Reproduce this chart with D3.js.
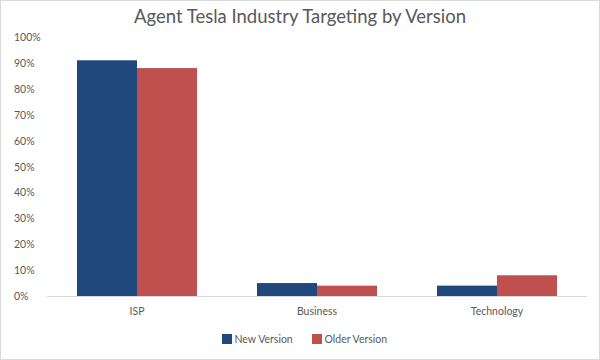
<!DOCTYPE html>
<html><head><meta charset="utf-8">
<script src="https://cdn.jsdelivr.net/npm/d3@7"></script>
<style>body{margin:0;background:#fff}svg{display:block}text{font-family:Lato,"Open Sans",sans-serif;fill:#595959}</style>
</head><body><svg id="c" width="600" height="360"></svg>
<script>
const categories = ["ISP", "Business", "Technology"];
const seriesNames = ["New Version", "Older Version"];
const newVersion = [0.91, 0.05, 0.04];
const olderVersion = [0.88, 0.04, 0.08];
const yTicks = [0,0.1,0.2,0.3,0.4,0.5,0.6,0.7,0.8,0.9,1.0];
const colors = ["#1F497D", "#C0504D"];

const svg = d3.select("#c");
svg.append("rect").attr("x",0.5).attr("y",0.5).attr("width",599).attr("height",359)
  .attr("fill","#fff").attr("stroke","#D9D9D9");

const m = {l:47, r:587, t:37, b:296};
const x = d3.scaleBand().domain(categories).range([m.l, m.r]).paddingInner(1/3).paddingOuter(1/6);
const xs = d3.scaleBand().domain(seriesNames).range([0, x.bandwidth()]);
const y = d3.scaleLinear().domain([0,1]).range([m.b, m.t]);

svg.append("text").attr("x",300).attr("y",23).attr("text-anchor","middle")
  .style("font-size","18.5px").text("Agent Tesla Industry Targeting by Version");

svg.selectAll(".yt").data(yTicks).join("text").attr("class","yt")
  .attr("x",14).attr("y",d=>y(d)+4).style("font-size","10.5px").text(d3.format(".0%"));

const data = [newVersion, olderVersion];
data.forEach((vals,si)=>{
  svg.selectAll(".b"+si).data(categories).join("rect").attr("class","b"+si)
    .attr("x",c=>x(c)+xs(seriesNames[si])).attr("width",xs.bandwidth())
    .attr("y",(c,i)=>y(vals[i])).attr("height",(c,i)=>y(0)-y(vals[i]))
    .attr("fill",colors[si]);
});

svg.append("line").attr("x1",m.l).attr("x2",m.r).attr("y1",m.b+0.5).attr("y2",m.b+0.5)
  .attr("stroke","#D9D9D9").attr("stroke-width",1);

svg.selectAll(".xl").data(categories).join("text").attr("class","xl")
  .attr("x",c=>x(c)+x.bandwidth()/2).attr("y",315).attr("text-anchor","middle")
  .style("font-size","10.5px").text(d=>d);

const leg = [{n:seriesNames[0],x:222},{n:seriesNames[1],x:312}];
leg.forEach((l,i)=>{
  svg.append("rect").attr("x",l.x).attr("y",334).attr("width",10).attr("height",10).attr("fill",colors[i]);
  svg.append("text").attr("x",l.x+12.5).attr("y",343).style("font-size","10.5px").text(l.n);
});
</script></body></html>
